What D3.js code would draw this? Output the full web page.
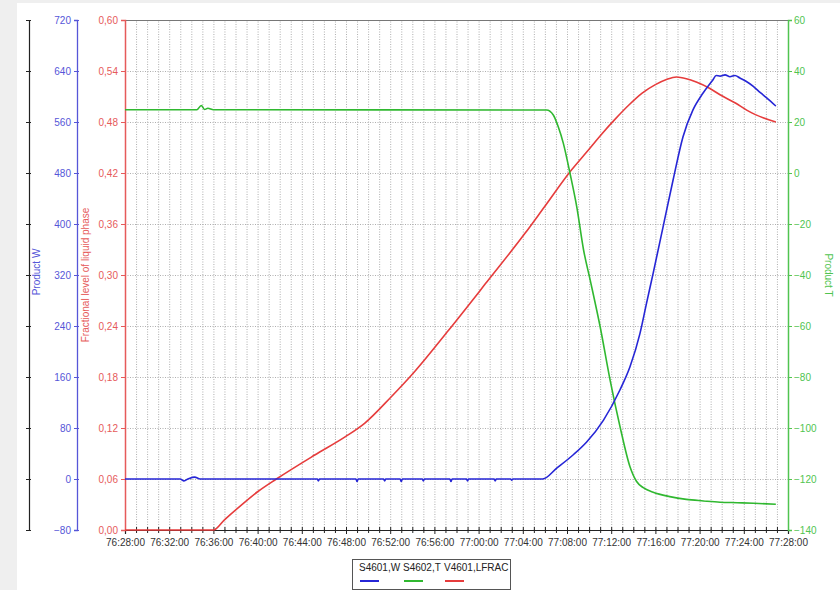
<!DOCTYPE html>
<html><head><meta charset="utf-8">
<script src="https://cdn.jsdelivr.net/npm/d3@7"></script>
<style>
html,body{margin:0;padding:0;background:#efefef;}
svg{display:block;font-family:"Liberation Sans",Arial,sans-serif;}
</style></head>
<body>
<script>
// ---- data (minutes after 76:28:00) ----
const xTickLabels = ["76:28:00","76:32:00","76:36:00","76:40:00","76:44:00","76:48:00","76:52:00","76:56:00",
  "77:00:00","77:04:00","77:08:00","77:12:00","77:16:00","77:20:00","77:24:00","77:28:00"];
const wTicks = [-80,0,80,160,240,320,400,480,560,640,720];
const lTicks = [0,0.06,0.12,0.18,0.24,0.30,0.36,0.42,0.48,0.54,0.60];
const tTicks = [-140,-120,-100,-80,-60,-40,-20,0,20,40,60];

const timeW = [0,5.0,5.3,5.7,6.3,6.8,17.4,17.5,17.6,20.9,21.0,21.1,23.4,23.5,23.6,24.9,25.0,25.1,26.9,27.0,27.1,
  29.4,29.5,29.6,30.9,31.0,31.1,33.4,33.5,33.6,34.9,35.0,35.1,
  37.8,39.07,40.57,41.78,43.29,44.8,45.7,46.6,47.2,47.8,48.7,49.6,50.5,51.4,52.3,53.2,53.5,53.85,54.3,54.75,55.2,55.65,56.2,56.86,57.5,58.07,58.9];
const valW  = [0,0,-3,0,3,0,0,-3,0,0,-4,0,0,-3,0,0,-4,0,0,-3,0,
  0,-4,0,0,-3,0,0,-3,0,0,-2,0,
  0,17,38,58,92,140,176,228,276,323,396,469,537,579,605,626,633,632,634,631,633,629,624,616,606,598,585];

const timeT = [0,6.5,6.9,7.2,7.5,8,38.15,38.76,39.2,39.67,40.27,40.88,41.5,42.1,43,43.9,44.8,45.7,46.3,46.9,47.8,49.3,50.8,52.35,53.85,55.4,56.9,58.9];
const valT  = [24.8,24.8,26.5,24.9,25.4,24.8,24.7,22.75,18.2,11.6,-0.1,-13.2,-30.2,-42,-60.3,-81.2,-99.5,-115.2,-121,-123.4,-125.2,-126.9,-128,-128.6,-129.1,-129.3,-129.5,-129.9];

const timeL = [0,8,9,10.5,12,13.7,17.17,19.95,21.68,24.1,26.2,29.3,32.76,36.2,37.95,40.4,41.8,43.15,44.4,45.6,46.8,48.0,49.0,49.9,50.8,51.7,52.85,53.85,55.28,56.26,57.0,58.9];
const valL  = [0,0,0.012,0.029,0.045,0.06,0.0882,0.1098,0.1255,0.1568,0.1862,0.2353,0.292,0.349,0.380,0.4235,0.445,0.466,0.484,0.500,0.514,0.524,0.530,0.533,0.531,0.527,0.520,0.512,0.502,0.494,0.489,0.480];

const seriesNames = ["S4601,W","S4602,T","V4601,LFRAC"];
const colors = {W:"#2626d6", T:"#30b830", L:"#e63c3c"};
const axisColors = {W:"#5656d8", T:"#50c450", L:"#e65a5a"};

// ---- layout ----
const W = 840, H = 590;
const L = 125, R = 788, T = 20, B = 530;
const FONT = "Liberation Sans, Arial, sans-serif";
const svg = d3.select("body").append("svg").attr("width", W).attr("height", H);
svg.append("rect").attr("x",0).attr("y",0).attr("width",W).attr("height",H).attr("fill","#efefef");
svg.append("rect").attr("x",17).attr("y",3).attr("width",W-17).attr("height",H-3).attr("fill","#ffffff");

const x = d3.scaleLinear().domain([0,60]).range([L,R]);
const yW = d3.scaleLinear().domain([-80,720]).range([B,T]);
const yL = d3.scaleLinear().domain([0,0.6]).range([B,T]);
const yT = d3.scaleLinear().domain([-140,60]).range([B,T]);

// grid
const gv = svg.append("g").attr("transform",`translate(0,${B})`)
  .call(d3.axisBottom(x).tickValues(d3.range(1,60)).tickSize(-(B-T)).tickFormat(""));
gv.select(".domain").remove();
gv.selectAll("line").attr("stroke","#9a9a9a").attr("stroke-dasharray","1,1.5").attr("stroke-width",0.8);
const gh = svg.append("g").attr("transform",`translate(${L},0)`)
  .call(d3.axisLeft(yL).tickValues(lTicks.slice(1,-1)).tickSize(-(R-L)).tickFormat(""));
gh.select(".domain").remove();
gh.selectAll("line").attr("stroke","#9a9a9a").attr("stroke-dasharray","1,1.5").attr("stroke-width",0.8);

// top border
svg.append("line").attr("x1",L).attr("x2",R).attr("y1",T+0.5).attr("y2",T+0.5).attr("stroke","#777").attr("stroke-width",1.2);

// x axis
const fmtX = d => xTickLabels[d/4];
const xa = svg.append("g").attr("transform",`translate(0,${B})`)
  .call(d3.axisBottom(x).tickValues(d3.range(0,61,4)).tickSize(4).tickFormat(fmtX));
xa.select(".domain").attr("stroke","#222").attr("stroke-width",1.2);
xa.selectAll("line").attr("stroke","#222").attr("y1",-3);
xa.selectAll("text").attr("fill","#333").attr("font-size","10px").attr("y",8).attr("dy","0.75em").attr("font-family",FONT);
const xm = svg.append("g").attr("transform",`translate(0,${B})`)
  .call(d3.axisBottom(x).tickValues(d3.range(0,61).filter(v=>v%4)).tickSize(3).tickFormat(""));
xm.select(".domain").remove();
xm.selectAll("line").attr("stroke","#222").attr("y1",-3);

// red axis
const fmtL = d => d.toFixed(2).replace(".",",");
const ra = svg.append("g").attr("transform",`translate(${L},0)`)
  .call(d3.axisLeft(yL).tickValues(lTicks).tickSize(4).tickFormat(fmtL));
ra.select(".domain").attr("stroke",axisColors.L).attr("stroke-width",1.5);
ra.selectAll("line").attr("stroke",axisColors.L);
ra.selectAll("text").attr("fill",axisColors.L).attr("font-size","10px").attr("font-family",FONT);

// blue axis
const ba = svg.append("g").attr("transform",`translate(77,0)`)
  .call(d3.axisLeft(yW).tickValues(wTicks).tickSize(3).tickFormat(d3.format("d")));
ba.select(".domain").attr("stroke",axisColors.W).attr("stroke-width",1.3);
ba.selectAll("line").attr("stroke",axisColors.W).attr("x2",-3).attr("x1",2);
ba.selectAll("text").attr("fill",axisColors.W).attr("font-size","10px").attr("font-family",FONT);

// black axis
const ka = svg.append("g").attr("transform",`translate(29,0)`)
  .call(d3.axisLeft(yW).tickValues(wTicks).tickSize(3).tickFormat(""));
ka.select(".domain").attr("stroke","#222").attr("stroke-width",1.2);
ka.selectAll("line").attr("stroke","#222").attr("x1",2);

// green axis
const ga = svg.append("g").attr("transform",`translate(${R},0)`)
  .call(d3.axisRight(yT).tickValues(tTicks).tickSize(4).tickFormat(d3.format("d")));
ga.select(".domain").attr("stroke",axisColors.T).attr("stroke-width",1.5);
ga.selectAll("line").attr("stroke",axisColors.T);
ga.selectAll("text").attr("fill",axisColors.T).attr("font-size","10px").attr("x",6).attr("font-family",FONT);

// axis titles
svg.append("text").attr("transform","translate(40,272) rotate(-90)").attr("text-anchor","middle")
  .attr("fill",axisColors.W).attr("font-size","10px").text("Product W");
svg.append("text").attr("transform","translate(89,275) rotate(-90)").attr("text-anchor","middle")
  .attr("fill",axisColors.L).attr("font-size","10px").text("Fractional level of liquid phase");
svg.append("text").attr("transform","translate(825,275) rotate(90)").attr("text-anchor","middle")
  .attr("fill",axisColors.T).attr("font-size","10px").text("Product T");

// lines
const mk = (ts, vs) => ts.map((t,i)=>({t, v: vs[i]}));
const lineW = d3.line().x(d=>x(d.t)).y(d=>yW(d.v)).curve(d3.curveMonotoneX);
const lineT = d3.line().x(d=>x(d.t)).y(d=>yT(d.v)).curve(d3.curveMonotoneX);
const lineL = d3.line().x(d=>x(d.t)).y(d=>yL(d.v)).curve(d3.curveMonotoneX);
svg.append("path").attr("d",lineL(mk(timeL,valL))).attr("fill","none").attr("stroke",colors.L).attr("stroke-width",1.6);
svg.append("path").attr("d",lineT(mk(timeT,valT))).attr("fill","none").attr("stroke",colors.T).attr("stroke-width",1.6);
svg.append("path").attr("d",lineW(mk(timeW,valW))).attr("fill","none").attr("stroke",colors.W).attr("stroke-width",1.6);

// legend
const lg = svg.append("g");
lg.append("rect").attr("x",352.5).attr("y",559.5).attr("width",158).attr("height",30)
  .attr("fill","#fff").attr("stroke","#555");
const lgX = [359,403,444];
const lgC = [colors.W, colors.T, colors.L];
seriesNames.forEach((n,i)=>{
  lg.append("text").attr("x",lgX[i]).attr("y",571).attr("font-size","10px").attr("fill","#222").text(n);
  lg.append("line").attr("x1",lgX[i]+1).attr("x2",lgX[i]+20).attr("y1",581).attr("y2",581)
    .attr("stroke",lgC[i]).attr("stroke-width",2);
});
</script>
</body></html>
